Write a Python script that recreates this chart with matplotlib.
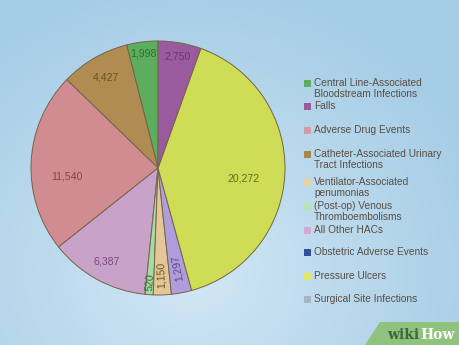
import numpy as np
import matplotlib
matplotlib.use('Agg')
import matplotlib.pyplot as plt
from matplotlib.patches import Polygon, Rectangle

plt.rcParams['font.family'] = ['Liberation Sans', 'DejaVu Sans']

# legend order
categories = ['Central Line-Associated\nBloodstream Infections', 'Falls',
              'Adverse Drug Events', 'Catheter-Associated Urinary\nTract Infections',
              'Ventilator-Associated\npenumonias', '(Post-op) Venous\nThromboembolisms',
              'All Other HACs', 'Obstetric Adverse Events', 'Pressure Ulcers',
              'Surgical Site Infections']
values = [1998, 2750, 11540, 4427, 1150, 520, 6387, 0, 20272, 1297]
slice_colors = ['#5cae5e', '#9a5b9c', '#d08c90', '#b08c52', '#e4c697', '#a6dba6',
                '#c8a2c8', '#2f4f9f', '#cfdc56', '#b09ddb']
legend_colors = ['#5cae5e', '#9a5b9c', '#d89aa6', '#a8874e', '#e9d3a3', '#b9e2b9',
                 '#d2aad2', '#2f4f9f', '#e4e85e', '#a6b4c8']
label_colors = ['#2f6e33', '#6b3572', '#8a4449', '#6b5022', '#6b5232', '#3b6c3b',
                '#7a4a7c', '#2f4f9f', '#656d1f', '#5a4a8c']
# order of wedges counter-clockwise from top
pie_order = [0, 3, 2, 6, 5, 4, 7, 9, 8, 1]
label_r = {0: 0.91, 3: 0.82, 2: 0.72, 6: 0.84, 5: 0.9, 4: 0.84, 9: 0.8, 8: 0.68, 1: 0.89}
label_shift = {2: 8, 8: -5}
rotated = [5, 4, 9]

fig = plt.figure(figsize=(4.6, 3.45), dpi=100)

# background gradient
bg = fig.add_axes([0, 0, 1, 1])
yy, xx = np.mgrid[0:345, 0:460]
d = np.sqrt((xx - 190) ** 2 + ((yy - 270) * 1.1) ** 2) / 330
d = np.clip(d, 0, 1)
c0 = np.array([0.83, 0.91, 0.96])
c1 = np.array([0.64, 0.80, 0.90])
img = c0 + (c1 - c0) * d[..., None] ** 0.9
bg.imshow(img, extent=[0, 460, 0, 345], origin='upper', aspect='auto')
bg.set_xlim(0, 460)
bg.set_ylim(0, 345)
bg.axis('off')

# wikiHow badge
bg.add_patch(Polygon([[380, 23], [460, 23], [460, 0], [365, 0]], closed=True,
                     facecolor='#8fc27c', edgecolor='none'))
bg.text(419, 10, 'wiki', fontsize=10, fontweight='bold', family='DejaVu Serif',
        color='#3c6a40', ha='right', va='center')
bg.text(420, 10, 'How', fontsize=10, fontweight='bold', family='DejaVu Serif',
        color='white', ha='left', va='center')

# legend
leg_y = [83, 106, 130, 154, 182, 206, 230, 252, 276, 299]
for i, lab in enumerate(categories):
    y = 345 - leg_y[i]
    bg.add_patch(Rectangle((304, y - 3.5), 7, 7, facecolor=legend_colors[i], edgecolor='none'))
    bg.text(314, y + 5, lab, fontsize=7.3, color='#5a4e43', ha='left', va='top',
            linespacing=1.1)

# pie
ax = fig.add_axes([31 / 460, 50 / 345, 254 / 460, 254 / 345])
vals = [values[i] for i in pie_order if values[i] > 0]
idx = [i for i in pie_order if values[i] > 0]
wedges, _ = ax.pie(vals, colors=[slice_colors[i] for i in idx], startangle=90,
                   counterclock=True, radius=1,
                   wedgeprops=dict(edgecolor='#74644a', linewidth=0.7))
for w, i in zip(wedges, idx):
    mid = (w.theta1 + w.theta2) / 2 + label_shift.get(i, 0)
    r = label_r[i]
    x, y = r * np.cos(np.radians(mid)), r * np.sin(np.radians(mid))
    rot = mid - 180 if i in rotated else 0
    ax.text(x, y, f'{values[i]:,}', fontsize=7.6, color=label_colors[i],
            ha='center', va='center', rotation=rot)
ax.set_xlim(-1, 1)
ax.set_ylim(-1, 1)
ax.set_aspect('auto')
ax.axis('off')

fig.savefig('out.png', dpi=100)
